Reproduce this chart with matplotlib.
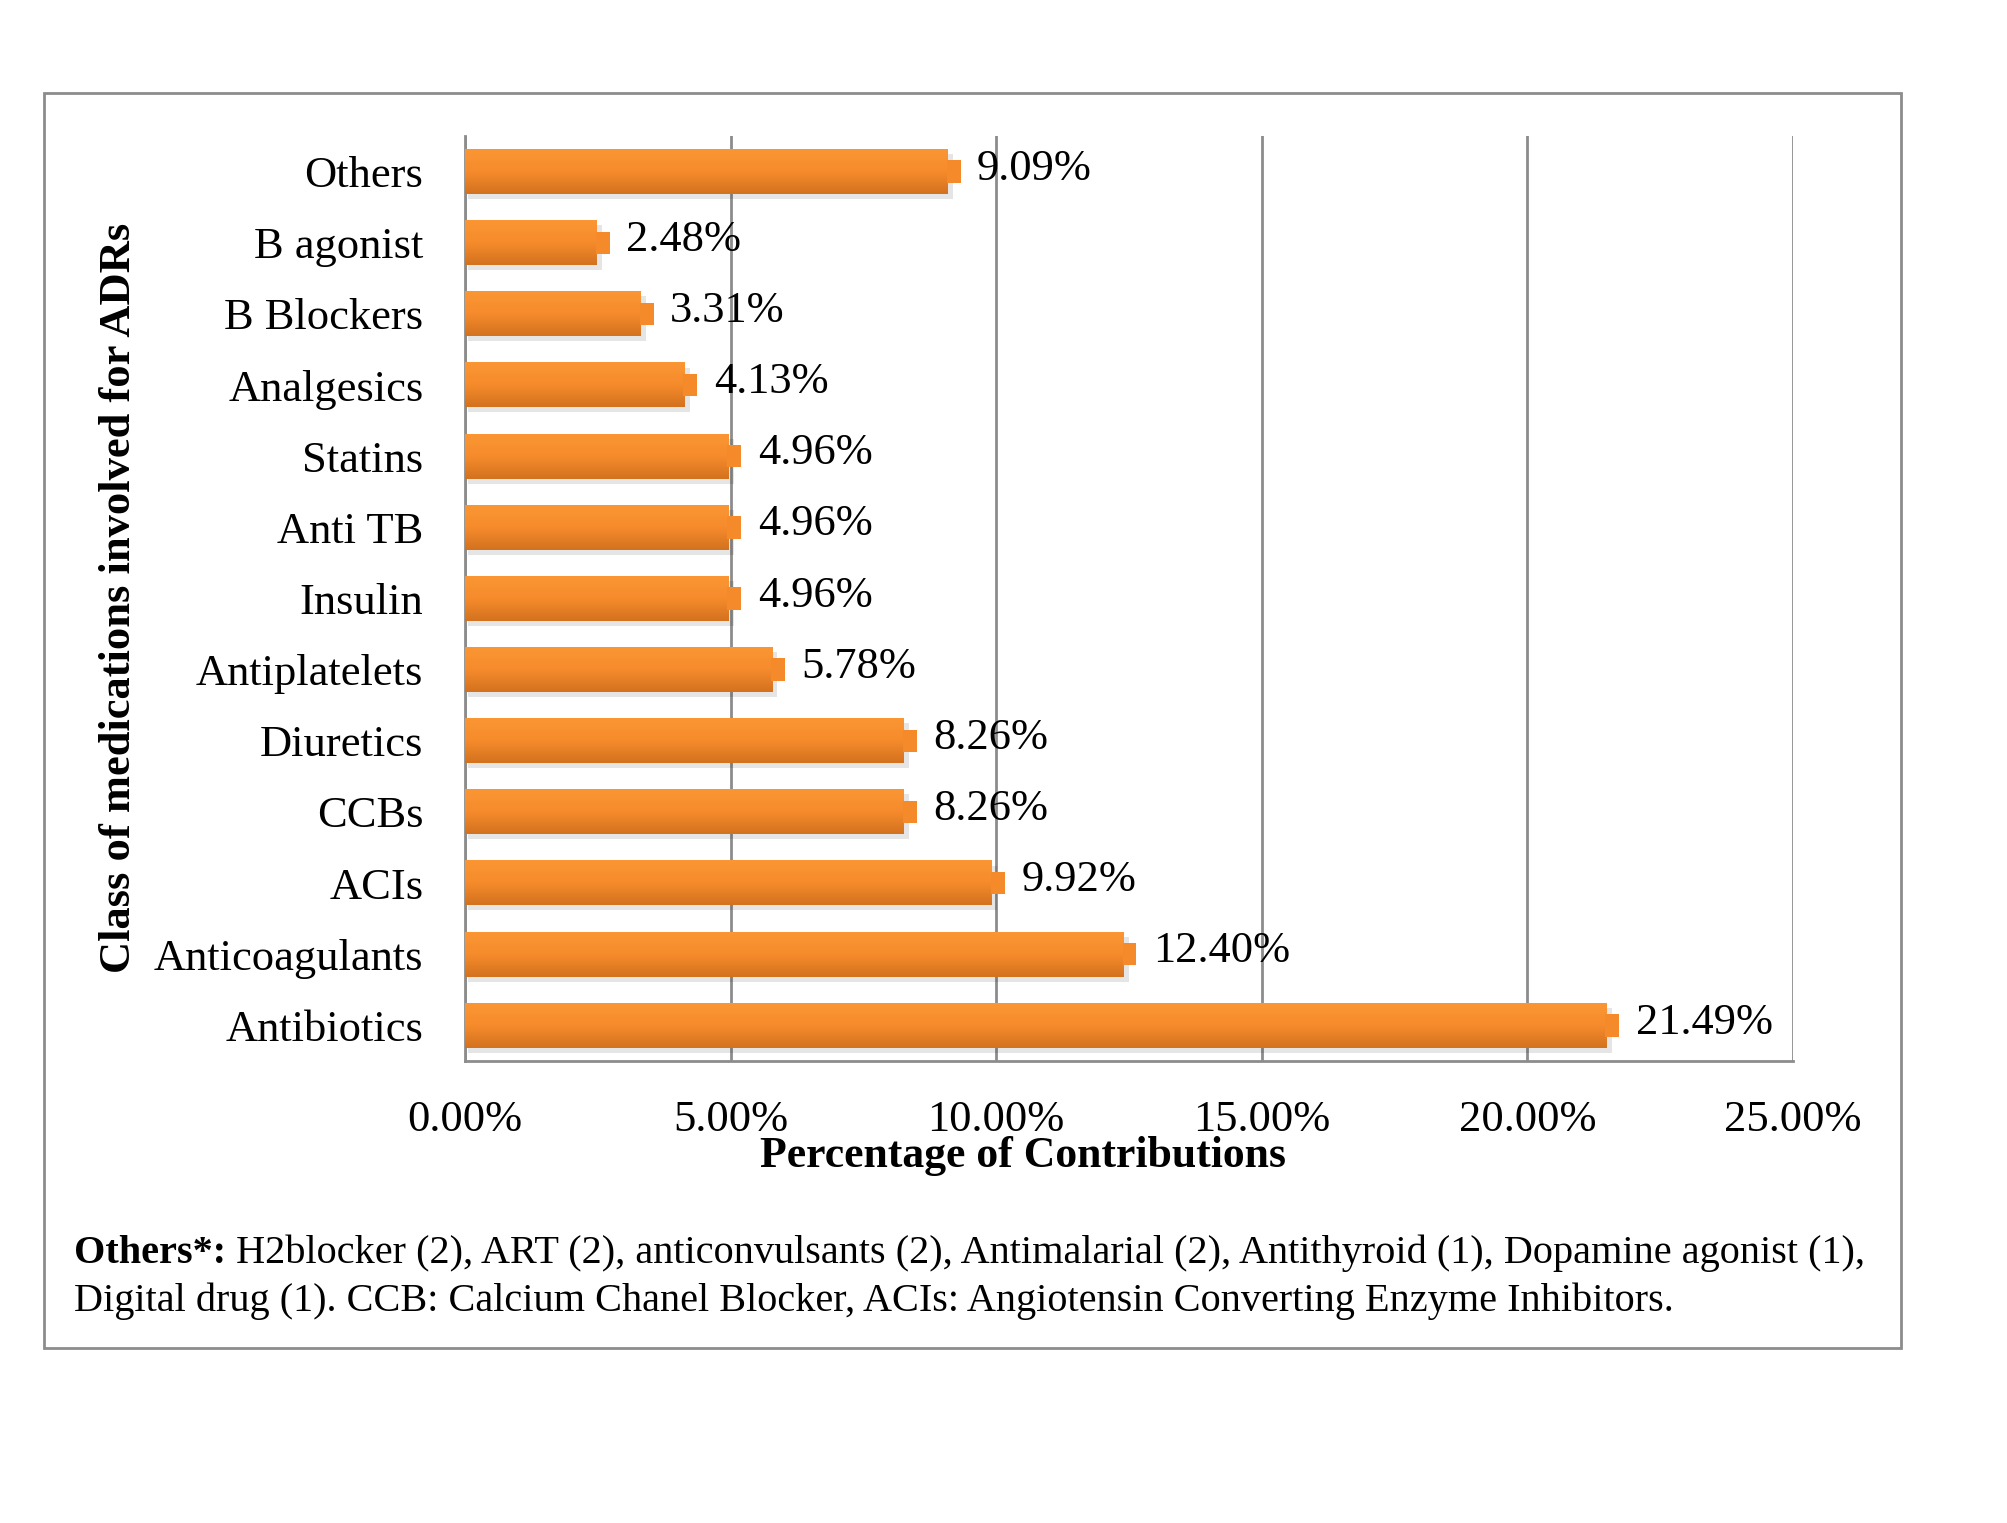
import numpy as np
import matplotlib.pyplot as plt
from matplotlib.colors import LinearSegmentedColormap
from matplotlib.patches import Rectangle

plt.rcParams['font.family'] = ['Liberation Serif', 'DejaVu Serif']

classes = ['Antibiotics', 'Anticoagulants', 'ACIs', 'CCBs', 'Diuretics',
           'Antiplatelets', 'Insulin', 'Anti TB', 'Statins', 'Analgesics',
           'B Blockers', 'B agonist', 'Others']
percent = [21.49, 12.40, 9.92, 8.26, 8.26, 5.78, 4.96, 4.96, 4.96, 4.13,
           3.31, 2.48, 9.09]
xticks = [0, 5, 10, 15, 20, 25]

note_head = 'Others*:'
note_line1 = (" H2blocker (2), ART (2), anticonvulsants (2), Antimalarial (2), "
              "Antithyroid (1), Dopamine agonist (1),")
note_line2 = ("Digital drug (1). CCB: Calcium Chanel Blocker, ACIs: Angiotensin "
              "Converting Enzyme Inhibitors.")

fig = plt.figure(figsize=(20.08, 15.23), dpi=100)

# outer frame
frame = Rectangle((0.0217, 0.1146), 0.9250, 0.8243, transform=fig.transFigure,
                  fill=False, edgecolor='#8c8c8c', linewidth=2)
fig.patches.append(frame)

ax = fig.add_axes([0.2316, 0.3034, 0.6613, 0.6073])

ypos = np.arange(len(classes))
h = 0.63
grad = LinearSegmentedColormap.from_list('og', ['#d3721f', '#f68b2c', '#fb9634'])
gimg = np.linspace(0, 1, 64).reshape(-1, 1)

for y, v in zip(ypos, percent):
    # soft shadow
    ax.barh(y - 0.07, v + 0.05, height=h, left=0.05, color='black', alpha=0.10,
            linewidth=0, zorder=2)
    ax.imshow(gimg, cmap=grad, extent=(0, v, y - h / 2, y + h / 2),
              aspect='auto', origin='lower', zorder=3, interpolation='bicubic')
    ax.barh(y, 0.26, left=v - 0.02, height=h * 0.5, color='#f58a2b',
            linewidth=0, zorder=4)
    ax.text(v + 0.55, y + 0.04, f'{v:.2f}%', va='center', ha='left',
            fontsize=32, zorder=5)

ax.set_xlim(0, 25)
ax.set_ylim(-0.5, 12.5)
ax.set_xticks(xticks)
ax.set_xticklabels([f'{t:.2f}%' for t in xticks], fontsize=32)
ax.set_yticks(ypos)
ax.set_yticklabels(classes, fontsize=32)
ax.tick_params(length=0, pad=30)
ax.tick_params(axis='x', pad=28)
ax.grid(axis='x', color='#8c8c8c', linewidth=2, zorder=1)
ax.set_axisbelow(True)
for s in ['top', 'right']:
    ax.spines[s].set_visible(False)
for s in ['left', 'bottom']:
    ax.spines[s].set_color('#8c8c8c')
    ax.spines[s].set_linewidth(2)

ax.set_xlabel('Percentage of Contributions', fontsize=31.5, fontweight='bold')
ax.xaxis.set_label_coords(0.42, -0.081)
fig.text(0.0595, 0.6075, 'Class of medications involved for ADRs', rotation=90,
         ha='center', va='center', fontsize=32, fontweight='bold')

head = fig.text(0.037, 0.1705, note_head, fontsize=29, fontweight='bold',
                ha='left', va='baseline')
fig.canvas.draw()
bb = head.get_window_extent().transformed(fig.transFigure.inverted())
fig.text(bb.x1, 0.1705, note_line1, fontsize=29, ha='left', va='baseline')
fig.text(0.037, 0.1395, note_line2, fontsize=29, ha='left', va='baseline')

fig.savefig('out.png', dpi=100, facecolor='white')
